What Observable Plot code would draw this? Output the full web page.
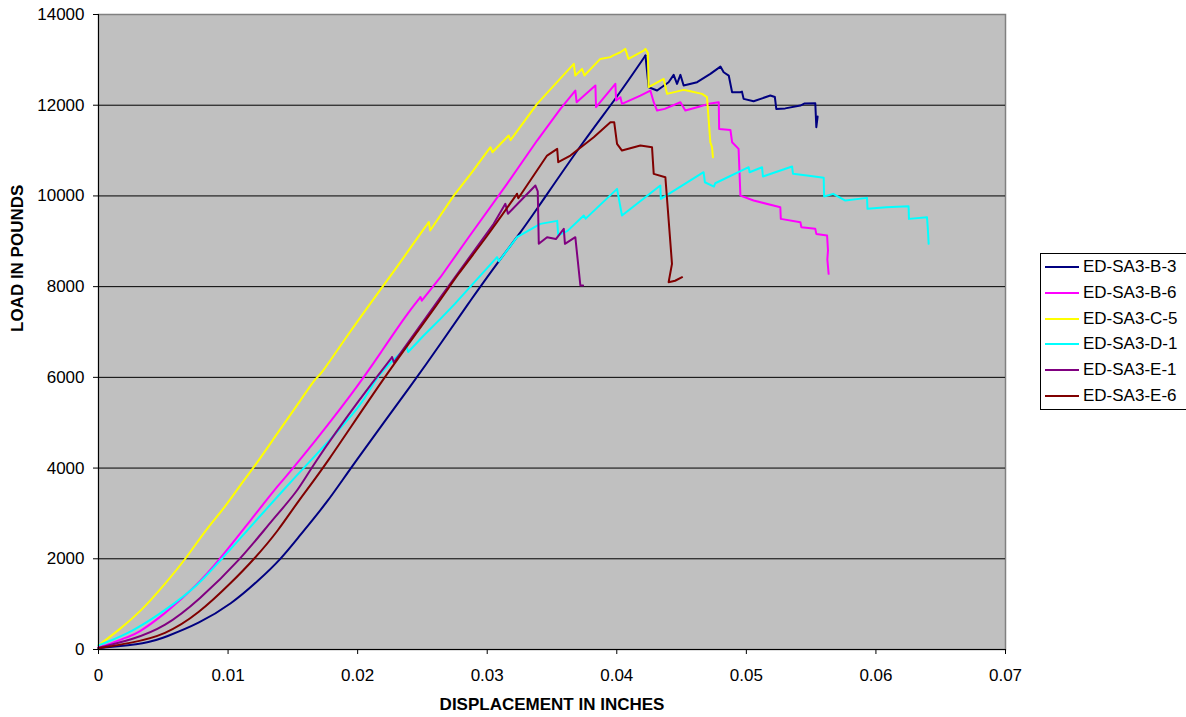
<!DOCTYPE html>
<html>
<head>
<meta charset="utf-8">
<script src="https://cdn.jsdelivr.net/npm/d3@7"></script>
<script src="https://cdn.jsdelivr.net/npm/@observablehq/plot@0.6"></script>
<style>
  body { margin: 0; background: #fff; }
  #wrap { position: relative; width: 1186px; height: 717px; overflow: hidden; font-family: "Liberation Sans", Arial, sans-serif; }
  #legend { position: absolute; left: 1040px; top: 253px; width: 160px; height: 157px; background: #fff; border: 1px solid #000; box-sizing: border-box; }
  .item { position: absolute; left: 0; height: 20px; font-size: 17px; color: #000; white-space: nowrap; }
  .item .sw { position: absolute; left: 4px; top: 9px; width: 34px; height: 2px; }
  .item .lb { position: absolute; left: 42px; top: 0; line-height: 20px; }
</style>
</head>
<body>
<div id="wrap"></div>
<script>
// ---- data (displacement in inches, load in pounds) ----
const seriesNames = ["ED-SA3-B-3", "ED-SA3-B-6", "ED-SA3-C-5", "ED-SA3-D-1", "ED-SA3-E-1", "ED-SA3-E-6"];
const seriesColors = ["#000080", "#FF00FF", "#FFFF00", "#00FFFF", "#800080", "#800000"];
const xTicks = [0, 0.01, 0.02, 0.03, 0.04, 0.05, 0.06, 0.07];
const yTicks = [0, 2000, 4000, 6000, 8000, 10000, 12000, 14000];

const b3 = [[0,30],[0.0038,132],[0.00514,272],[0.00772,566],[0.01029,1007],[0.01235,1521],[0.0141,2000],[0.01543,2476],[0.01777,3285],[0.01944,4000],[0.02459,6000],[0.02639,6739],[0.0287,7694],[0.03102,8613],[0.0323,9090],[0.03359,9605],[0.03745,11221],[0.04002,12177],[0.04221,13095],[0.04246,12397],[0.04311,12324],[0.044,12507],[0.04439,12670],[0.04465,12471],[0.04491,12670],[0.04516,12434],[0.0462,12507],[0.04722,12691],[0.048,12852],[0.04825,12727],[0.04864,12654],[0.0489,12287],[0.04954,12287],[0.04966,12300],[0.04979,12140],[0.05056,12088],[0.05185,12213],[0.0522,12180],[0.05231,11919],[0.053,11930],[0.05417,11993],[0.0545,12040],[0.05532,12044],[0.0554,11515],[0.0555,11750],[0.0554,11600]];
const b6 = [[0,50],[0.001,132],[0.00219,272],[0.00298,345],[0.00514,787],[0.00772,1448],[0.00939,2000],[0.01132,2696],[0.01415,3726],[0.01507,4000],[0.0199,5750],[0.02189,6592],[0.02382,7400],[0.02485,7767],[0.02495,7690],[0.02639,8208],[0.02857,9090],[0.03153,10266],[0.03385,11221],[0.03565,11919],[0.0368,12324],[0.0369,12066],[0.03835,12434],[0.0384,11956],[0.03989,12471],[0.03995,12103],[0.04028,12177],[0.0404,12030],[0.04182,12213],[0.04259,12324],[0.04285,12066],[0.04311,11882],[0.0437,11919],[0.04491,12066],[0.04529,11882],[0.0462,11956],[0.04709,12030],[0.04787,12066],[0.0479,11478],[0.04877,11456],[0.0489,11184],[0.0494,11037],[0.04954,10008],[0.05056,9898],[0.05262,9751],[0.05266,9494],[0.05417,9421],[0.05425,9310],[0.05532,9274],[0.0554,9163],[0.05623,9127],[0.0563,8800],[0.05625,8600],[0.05635,8282]];
const c5 = [[0,90],[0.00154,419],[0.00334,860],[0.00514,1448],[0.00674,2000],[0.00823,2623],[0.00977,3137],[0.01119,3726],[0.01196,4000],[0.01404,4865],[0.01559,5489],[0.01688,6040],[0.0170,5990],[0.01919,6922],[0.02189,7987],[0.0233,8538],[0.0251,9274],[0.02549,9421],[0.0256,9237],[0.02742,10008],[0.02883,10523],[0.03025,11074],[0.0304,10963],[0.03166,11332],[0.0318,11230],[0.03385,12030],[0.03668,12912],[0.0368,12655],[0.03732,12800],[0.0375,12655],[0.03873,13021],[0.0395,13060],[0.0397,13095],[0.04028,13168],[0.04066,13242],[0.0409,13021],[0.04208,13205],[0.04221,13242],[0.0424,13150],[0.04246,12397],[0.04362,12580],[0.04388,12250],[0.04516,12338],[0.04542,12324],[0.04658,12250],[0.04696,12177],[0.04722,11184],[0.04735,11074],[0.04742,10853]];
const d1 = [[0,90],[0.00257,382],[0.00514,860],[0.00772,1420],[0.00952,2000],[0.01492,3726],[0.01584,4000],[0.0207,5489],[0.0213,6000],[0.0238,6665],[0.0239,6560],[0.0251,6922],[0.02639,7290],[0.0275,7620],[0.03076,8650],[0.0309,8560],[0.0323,9090],[0.0341,9384],[0.0354,9450],[0.03548,9130],[0.0362,9230],[0.03745,9568],[0.0376,9500],[0.04002,10156],[0.0404,9568],[0.04336,10229],[0.0434,9935],[0.0467,10523],[0.0468,10302],[0.0475,10207],[0.0476,10280],[0.05018,10633],[0.05025,10523],[0.05121,10633],[0.05128,10428],[0.05353,10648],[0.0536,10487],[0.05468,10449],[0.05597,10399],[0.056,9987],[0.0567,10046],[0.05764,9898],[0.05931,9957],[0.05935,9715],[0.0608,9751],[0.06252,9773],[0.06255,9494],[0.06394,9531],[0.064,9300],[0.06407,8944]];
const e1 = [[0,40],[0.00257,213],[0.00514,500],[0.00772,1080],[0.01101,2000],[0.01337,2844],[0.01543,3505],[0.01636,4000],[0.02035,5600],[0.02266,6444],[0.0228,6330],[0.02639,7767],[0.0305,9384],[0.0314,9825],[0.0316,9605],[0.03372,10229],[0.0339,10100],[0.03398,8944],[0.03462,9090],[0.0353,9050],[0.03591,9274],[0.036,8944],[0.0368,9090],[0.03719,8025],[0.0374,8025]];
const e6 = [[0,30],[0.0025,140],[0.00514,320],[0.00772,787],[0.01029,1484],[0.01204,2000],[0.01389,2623],[0.01543,3285],[0.01739,4000],[0.02201,6000],[0.02639,7694],[0.02755,8208],[0.02986,9053],[0.0323,10046],[0.0324,9950],[0.03462,10890],[0.0354,11037],[0.03548,10743],[0.03642,10890],[0.03822,11294],[0.03951,11625],[0.0398,11625],[0.04002,11148],[0.0404,11000],[0.04182,11111],[0.04272,11074],[0.04285,10487],[0.04375,10412],[0.04426,8503],[0.044,8098],[0.0445,8130],[0.04504,8208]];
const seriesData = [b3, b6, c5, d1, e1, e6];
// displacement up to which each curve is drawn as a smooth rising branch
const smoothUntil = [0.04221, 0.02485, 0.02549, 0.0238, 0.02266, 0.0323];

const lineMarks = seriesData.flatMap((arr, i) => {
  const smooth = arr.filter(d => d[0] <= smoothUntil[i]);
  const k = smooth.length - 1;
  const rest = arr.slice(k);
  const opts = {x: d => d[0], y: d => d[1], stroke: seriesColors[i], strokeWidth: 2, strokeLinejoin: "round", strokeLinecap: "round"};
  return [
    Plot.line(smooth, {...opts, curve: "basis"}),
    Plot.line(rest, {...opts, curve: "linear"})
  ];
});

const chart = Plot.plot({
  width: 1186,
  height: 717,
  marginLeft: 98,
  marginRight: 181,
  marginTop: 14,
  marginBottom: 68,
  style: {fontFamily: "'Liberation Sans', Arial, sans-serif", fontSize: "17px", color: "#000", background: "#fff"},
  x: {domain: [0, 0.07]},
  y: {domain: [0, 14000]},
  marks: [
    Plot.frame({fill: "#C0C0C0", stroke: "#808080", strokeWidth: 1.5}),
    Plot.gridY(yTicks.filter(t => t > 0 && t < 14000), {stroke: "#000", strokeOpacity: 1, strokeWidth: 1}),
    ...lineMarks,
    Plot.ruleY([0], {stroke: "#000", strokeWidth: 1}),
    Plot.ruleX([0], {stroke: "#000", strokeWidth: 1}),
    Plot.axisX(xTicks, {tickSize: 5, tickPadding: 14, tickFormat: d => String(+d.toFixed(2)), label: null}),
    Plot.axisY(yTicks, {tickSize: 5, tickPadding: 9, tickFormat: d => String(d), label: null}),
    Plot.text(["DISPLACEMENT IN INCHES"], {frameAnchor: "bottom", dy: 55, fontWeight: "bold", fontSize: 17, lineAnchor: "middle"}),
    Plot.text(["LOAD IN POUNDS"], {frameAnchor: "left", dx: -81, rotate: -90, fontWeight: "bold", fontSize: 17, lineAnchor: "middle"})
  ]
});

const wrap = document.getElementById("wrap");
wrap.appendChild(chart);

const legend = document.createElement("div");
legend.id = "legend";
seriesNames.forEach((name, i) => {
  const item = document.createElement("div");
  item.className = "item";
  item.style.top = (3 + i * 25.8) + "px";
  const sw = document.createElement("div");
  sw.className = "sw";
  sw.style.background = seriesColors[i];
  const lb = document.createElement("div");
  lb.className = "lb";
  lb.textContent = name;
  item.appendChild(sw);
  item.appendChild(lb);
  legend.appendChild(item);
});
wrap.appendChild(legend);
</script>
</body>
</html>
